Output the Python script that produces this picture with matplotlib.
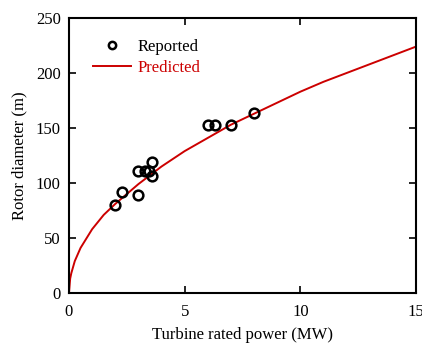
import matplotlib
matplotlib.use('Agg')
import matplotlib.pyplot as plt

# reported turbines (rated power MW, rotor diameter m)
power_reported = [2.0, 2.3, 3.0, 3.0, 3.3, 3.45, 3.6, 3.6, 6.0, 6.3, 7.0, 8.0]
rotor_reported = [80, 92, 89, 111, 111, 111, 119, 106, 153, 153, 153, 164]

# predicted curve
power_pred = [0, 0.05, 0.1, 0.25, 0.5, 1, 1.5, 2, 3, 4, 5, 6, 7, 8, 9, 10, 11, 12, 13, 14, 15]
rotor_pred = [0, 13, 18, 29, 41, 58, 71, 81, 99, 115, 129, 141, 153, 163, 173, 183, 192, 200, 208, 216, 224]

plt.rcParams['font.family'] = ['Liberation Serif', 'DejaVu Serif']
plt.rcParams['font.size'] = 12

fig = plt.figure(figsize=(4.22, 3.43), dpi=100)
ax = fig.add_axes([0.1635, 0.1458, 0.8223, 0.8017])

ax.plot(power_reported, rotor_reported, 'o', markerfacecolor='none', markeredgecolor='black',
        markersize=7, markeredgewidth=1.8, label='Reported', zorder=3)
ax.plot(power_pred, rotor_pred, color='#cc0000', linewidth=1.4, label='Predicted')

ax.set_xlim(0, 15)
ax.set_ylim(0, 250)
ax.set_xticks([0, 5, 10, 15])
ax.set_yticks([0, 50, 100, 150, 200, 250])
ax.tick_params(direction='in', top=True, right=True, length=5, width=1.2, labelsize=12)
ax.tick_params(axis='x', pad=8)
ax.tick_params(axis='y', pad=6)
for s in ax.spines.values():
    s.set_linewidth(1.5)
ax.set_xlabel('Turbine rated power (MW)', fontsize=12, labelpad=5)
ax.set_ylabel('Rotor diameter (m)', fontsize=12, labelpad=6)

leg = ax.legend(loc='upper left', frameon=False, fontsize=12, handlelength=2.3,
                handletextpad=0.4, bbox_to_anchor=(0.035, 0.965), borderaxespad=0.3,
                labelspacing=0.3, markerscale=0.75)
leg.get_texts()[1].set_color('#cc0000')

fig.savefig('out.png', dpi=100)
